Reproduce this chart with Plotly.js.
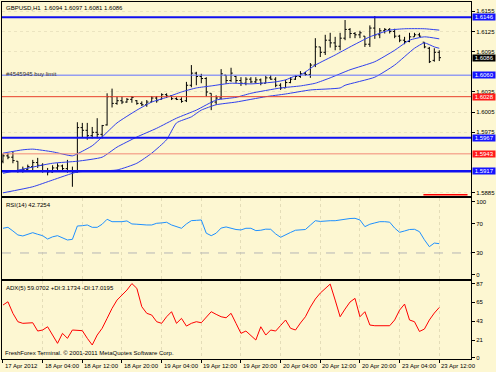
<!DOCTYPE html>
<html><head><meta charset="utf-8">
<script src="https://cdn.plot.ly/plotly-3.0.1.min.js"></script>
<style>html,body{margin:0;padding:0;background:#fdf7d2;}#chart{width:496px;height:372px;}</style>
</head><body><div id="chart"></div>
<script>
// ---- OHLC (GBPUSD H1), bar index 0 = 17 Apr 20:00 ... 88 = 23 Apr 12:00
const opens  = [1.5932,1.5940,1.5938,1.5932,1.5918,1.5920,1.5924,1.5930,1.5926,1.5918,1.5916,1.5922,1.5925,1.5921,1.5918,1.5916,1.5982,1.5978,1.5970,1.5975,1.5972,1.5986,1.6028,1.6018,1.6022,1.6020,1.6024,1.6022,1.6018,1.6016,1.6020,1.6026,1.6024,1.6031,1.6029,1.6025,1.6024,1.6022,1.6045,1.6063,1.6058,1.6055,1.6033,1.6020,1.6026,1.6060,1.6052,1.6058,1.6052,1.6048,1.6054,1.6050,1.6053,1.6048,1.6056,1.6054,1.6045,1.6041,1.6049,1.6054,1.6058,1.6062,1.6061,1.6075,1.6102,1.6094,1.6112,1.6108,1.6103,1.6115,1.6128,1.6122,1.6120,1.6118,1.6106,1.6130,1.6120,1.6126,1.6128,1.6125,1.6118,1.6112,1.6110,1.6117,1.6120,1.6109,1.6100,1.6082,1.6094];
const highs  = [1.5943,1.5944,1.5946,1.5932,1.5924,1.5927,1.5934,1.5937,1.5929,1.5922,1.5926,1.5929,1.5927,1.5934,1.5924,1.5990,1.5989,1.5989,1.5983,1.5996,1.5986,1.6033,1.6040,1.6028,1.6028,1.6026,1.6029,1.6023,1.6021,1.6023,1.6029,1.6029,1.6033,1.6033,1.6030,1.6027,1.6027,1.6050,1.6075,1.6065,1.6062,1.6057,1.6033,1.6030,1.6069,1.6060,1.6071,1.6059,1.6057,1.6057,1.6057,1.6057,1.6055,1.6059,1.6060,1.6057,1.6048,1.6053,1.6057,1.6060,1.6066,1.6065,1.6078,1.6115,1.6102,1.6120,1.6123,1.6117,1.6123,1.6142,1.6130,1.6124,1.6126,1.6118,1.6134,1.6148,1.6130,1.6130,1.6130,1.6129,1.6120,1.6117,1.6123,1.6123,1.6123,1.6109,1.6102,1.6100,1.6097];
const lows   = [1.5929,1.5935,1.5929,1.5915,1.5915,1.5919,1.5916,1.5922,1.5915,1.5911,1.5915,1.5919,1.5919,1.5915,1.5894,1.5915,1.5968,1.5964,1.5966,1.5966,1.5966,1.5985,1.6012,1.6016,1.6017,1.6019,1.6019,1.6016,1.6014,1.6013,1.6020,1.6019,1.6024,1.6026,1.6023,1.6023,1.6019,1.6020,1.6042,1.6045,1.6048,1.6028,1.6008,1.6016,1.6024,1.6047,1.6050,1.6048,1.6044,1.6045,1.6048,1.6048,1.6045,1.6048,1.6053,1.6042,1.6038,1.6041,1.6048,1.6053,1.6056,1.6059,1.6056,1.6072,1.6087,1.6090,1.6101,1.6097,1.6097,1.6112,1.6115,1.6115,1.6115,1.6102,1.6102,1.6114,1.6115,1.6122,1.6122,1.6115,1.6109,1.6106,1.6109,1.6117,1.6117,1.6100,1.6078,1.6080,1.6081];
const closes = [1.5940,1.5938,1.5933,1.5918,1.5920,1.5924,1.5930,1.5926,1.5918,1.5916,1.5922,1.5925,1.5921,1.5918,1.5916,1.5982,1.5978,1.5970,1.5975,1.5972,1.5985,1.6028,1.6018,1.6022,1.6020,1.6024,1.6027,1.6018,1.6016,1.6020,1.6026,1.6022,1.6031,1.6029,1.6025,1.6024,1.6021,1.6045,1.6063,1.6058,1.6055,1.6035,1.6020,1.6026,1.6062,1.6052,1.6063,1.6052,1.6048,1.6054,1.6050,1.6053,1.6048,1.6056,1.6054,1.6045,1.6041,1.6049,1.6054,1.6058,1.6062,1.6061,1.6075,1.6102,1.6094,1.6112,1.6108,1.6103,1.6115,1.6128,1.6122,1.6120,1.6123,1.6106,1.6130,1.6120,1.6126,1.6128,1.6125,1.6118,1.6112,1.6110,1.6117,1.6120,1.6118,1.6102,1.6080,1.6094,1.6086];

// ---- channel lines on the price chart (read at selected bars)
const upperIdx = [0,4,6,10,14,15,18,20,23,27,30,33,36,39,42,46,50,55,57,59,60,63,67,70,74,78,81,85,88];
const upperVal = [1.5944,1.5949,1.5950,1.5946,1.5940,1.5943,1.5955,1.5968,1.5989,1.6008,1.6020,1.6027,1.6035,1.6041,1.6044,1.6048,1.6047,1.6050,1.6053,1.6059,1.6060,1.6075,1.6090,1.6102,1.6117,1.6127,1.6129,1.6129,1.6127];
const midIdx   = [0,10,15,20,23,27,31,35,39,43,47,50,56,60,63,66,70,75,79,82,85,88];
const midVal   = [1.5914,1.5929,1.5932,1.5938,1.5953,1.5968,1.5981,1.5996,1.6008,1.6023,1.6027,1.6033,1.6041,1.6044,1.6048,1.6056,1.6068,1.6080,1.6097,1.6112,1.6117,1.6114];
const lowerIdx = [0,6,10,15,23,27,30,33,35,38,40,43,47,53,57,62,68,69,75,79,83,85,87,88];
const lowerVal = [1.5885,1.5894,1.5904,1.5916,1.5919,1.5929,1.5944,1.5964,1.5989,1.5998,1.6008,1.6016,1.6020,1.6028,1.6032,1.6038,1.6041,1.6045,1.6057,1.6075,1.6100,1.6108,1.6102,1.6100];

// ---- RSI(14) and ADX per bar
const rsi = [63.7,65,60,54.6,53.2,55.5,57.7,55.5,53.6,49,52,53.6,51,47.7,48.6,66.8,67.2,68.2,65,65,69.2,76,72.7,72.5,72.7,73.7,69.6,69.2,68.5,68.2,68.2,70.5,71,71.9,68.2,66,63.7,69.6,74.1,74.5,75,57,53.6,57,64,65.5,63.7,62,61.4,63.7,63.7,60.5,61,62.5,62.3,56,51.4,55,58,61,62,62,68,74,73,74,74,74,75,76.4,77,77.3,75,65.9,69.2,71,72.7,72.7,72,64,58.2,60,62,62.3,59.1,48,38.6,43.5,42.7254];
const adx = [61.9,65.7,52.2,42.4,40.5,40.5,41.2,31.5,32.7,36.5,26.8,17.1,28.8,23,32.7,31.9,31.9,23,15.2,26.8,34.7,46.3,58,67.7,73.6,79.4,87,81.4,59.9,52.2,50.2,42.4,40.5,48.2,54.1,40.5,46.3,37.3,40.5,42.4,41.2,48.2,54.1,51,48.2,47,52.2,40.5,28.8,31.5,26.8,21,36.5,26.8,32.7,31.5,38,44.4,34.7,32.7,40.9,48.2,59.5,68.9,75.9,81.4,86.4,67.7,48.2,57.2,65.4,69.7,48.2,54.1,38.5,37.7,37.7,37.7,37.7,44.4,56,63,44.4,42.4,31,33.8,44.4,52.5,59.0702];
const plusDI = 3.1734, minusDI = 17.0195;

// ---- horizontal price levels (orders / lines)
const levelPrices = [1.6146, 1.6060, 1.6028, 1.5967, 1.5943, 1.5917];
const levelColors = ['#1010f0', '#6070ff', '#e8402c', '#1010f0', '#f28a78', '#1010f0'];
const levelWidths = [2, 1, 1, 2, 1, 2.5];
const levelBoxes  = ['#1414ff', '#1414ff', '#ff1a1a', '#1414ff', '#ff1a1a', '#1414ff'];
const bidPrice = 1.6086;
const orderText = '#4545945 buy limit';
const orderPrice = 1.6060;
const markPrice = 1.5882, markFrom = 84.8, markTo = 93.7;

// ---- axis ticks (ticks fully hidden behind the level boxes are left out)
const priceTicks = [1.5885,1.5975,1.6005,1.6035,1.6095,1.6125,1.6155];
const rsiTicks = [0,30,70,100];
const adxTicks = [0,21,43,65,87];
const timeTickIdx = [0,8,16,24,32,40,48,56,64,72,80,88];
const timeTickText = ['17 Apr 2012','18 Apr 04:00','18 Apr 12:00','18 Apr 20:00','19 Apr 04:00','19 Apr 12:00','19 Apr 20:00','20 Apr 04:00','20 Apr 12:00','20 Apr 20:00','23 Apr 04:00','23 Apr 12:00'];

const barIdx = opens.map((_, i) => i);
const FONT = 'Liberation Sans, Arial, sans-serif';
const FS = 6;
const BG = '#fdf7d2';
const bandColor = '#3040ee';
const NB = '\u00a0';

const traces = [
  {type:'ohlc', x:barIdx, open:opens, high:highs, low:lows, close:closes, xaxis:'x', yaxis:'y',
   increasing:{line:{color:'#000000', width:1}}, decreasing:{line:{color:'#000000', width:1}},
   tickwidth:0.35, hoverinfo:'skip'},
  {type:'scatter', mode:'lines', x:upperIdx, y:upperVal, xaxis:'x', yaxis:'y', line:{color:bandColor, width:1, shape:'spline', smoothing:0.5}},
  {type:'scatter', mode:'lines', x:midIdx, y:midVal, xaxis:'x', yaxis:'y', line:{color:bandColor, width:1, shape:'spline', smoothing:0.5}},
  {type:'scatter', mode:'lines', x:lowerIdx, y:lowerVal, xaxis:'x', yaxis:'y', line:{color:bandColor, width:1, shape:'spline', smoothing:0.5}},
  {type:'scatter', mode:'lines', x:barIdx, y:rsi, xaxis:'x2', yaxis:'y2', line:{color:'#1e90ff', width:1}},
  {type:'scatter', mode:'lines', x:barIdx, y:adx, xaxis:'x3', yaxis:'y3', line:{color:'#ff0000', width:1}}
];

const xr = [-0.2, 94.4];
const xBase = {range:xr, showline:true, linecolor:'#000', linewidth:1, mirror:true, zeroline:false,
  tickvals:timeTickIdx, showgrid:true, gridcolor:'#e4ddb8', griddash:'dot', gridwidth:1, fixedrange:true};
const yBase = {side:'right', showline:true, linecolor:'#000', linewidth:1, mirror:true, zeroline:false,
  ticks:'outside', ticklen:3, tickcolor:'#000', tickfont:{family:FONT, size:FS, color:'#000'}, fixedrange:true};

const shapes = [];
levelPrices.forEach((p, k) => shapes.push({type:'line', xref:'x domain', x0:0, x1:1, yref:'y', y0:p, y1:p,
  line:{color:levelColors[k], width:levelWidths[k]}, layer:'above'}));
shapes.push({type:'line', xref:'x2 domain', x0:0, x1:1, yref:'y2', y0:30, y1:30, line:{color:'#b5b5b5', width:1, dash:'dash'}});
shapes.push({type:'line', xref:'x', x0:markFrom, x1:markTo, yref:'y', y0:markPrice, y1:markPrice, line:{color:'#ff0000', width:1.5}});

const annotations = [];
levelPrices.forEach((p, k) => annotations.push({xref:'paper', x:1, xanchor:'left', xshift:1, yref:'y', y:p, yanchor:'middle',
  text:NB + p.toFixed(4) + NB, showarrow:false, bgcolor:levelBoxes[k], borderpad:0, font:{family:FONT, size:FS, color:'#fff'}}));
annotations.push({xref:'paper', x:1, xanchor:'left', xshift:1, yref:'y', y:bidPrice, yanchor:'middle',
  text:NB + bidPrice.toFixed(4) + NB, showarrow:false, bgcolor:'#000', borderpad:0, font:{family:FONT, size:FS, color:'#fff'}});
annotations.push({xref:'x domain', x:0, xanchor:'left', xshift:2, yref:'y', y:orderPrice, yanchor:'middle', yshift:1,
  text:orderText, showarrow:false, font:{family:FONT, size:FS, color:'#303030'}});
annotations.push({xref:'x domain', x:0, xanchor:'left', xshift:2, yref:'y domain', y:1, yanchor:'top', yshift:-1,
  text:'GBPUSD,H1' + NB + NB + [opens[88], highs[88], lows[88], closes[88]].map(v => v.toFixed(4)).join(' '),
  showarrow:false, font:{family:FONT, size:FS, color:'#000'}});
annotations.push({xref:'x2 domain', x:0, xanchor:'left', xshift:2, yref:'y2 domain', y:1, yanchor:'top', yshift:-2,
  text:'RSI(14) ' + rsi[88].toFixed(4), showarrow:false, font:{family:FONT, size:FS, color:'#000'}});
annotations.push({xref:'x3 domain', x:0, xanchor:'left', xshift:2, yref:'y3 domain', y:1, yanchor:'top', yshift:-2,
  text:'ADX(5) ' + adx[88].toFixed(4) + ' +DI:' + plusDI.toFixed(4) + ' -DI:' + minusDI.toFixed(4), showarrow:false, font:{family:FONT, size:FS, color:'#000'}});
annotations.push({xref:'x3 domain', x:0, xanchor:'left', xshift:1, yref:'y3 domain', y:0, yanchor:'bottom', yshift:1,
  text:'FreshForex Terminal. © 2001-2011 MetaQuotes Software Corp.', showarrow:false, font:{family:FONT, size:FS, color:'#000'}});
// time labels: left-aligned just right of each time tick, as on the terminal
timeTickIdx.forEach((ix, k) => annotations.push({xref:'x3', x:ix, xanchor:'left', xshift:0, yref:'paper', y:0, yanchor:'top', yshift:-2,
  text:timeTickText[k], showarrow:false, font:{family:FONT, size:FS, color:'#000'}}));

const layout = {
  width:496, height:372, paper_bgcolor:BG, plot_bgcolor:BG, showlegend:false,
  margin:{l:2, r:25, t:2, b:13}, hovermode:false,
  xaxis: Object.assign({}, xBase, {anchor:'y', showticklabels:false, ticks:'', rangeslider:{visible:false}, showgrid:false}),
  xaxis2: Object.assign({}, xBase, {anchor:'y2', matches:'x', showticklabels:false, ticks:''}),
  xaxis3: Object.assign({}, xBase, {anchor:'y3', matches:'x', ticks:'outside', ticklen:3, tickcolor:'#000', showticklabels:false}),
  yaxis: Object.assign({}, yBase, {domain:[0.4566, 1], range:[1.58803, 1.61688], tickvals:priceTicks, tickformat:'.4f',
    showgrid:true, gridcolor:'#ebe4c0', griddash:'dot'}),
  yaxis2: Object.assign({}, yBase, {domain:[0.2241, 0.4510], range:[-5.5, 105], tickvals:rsiTicks, showgrid:false}),
  yaxis3: Object.assign({}, yBase, {domain:[0, 0.2185], range:[-1.2, 90], tickvals:adxTicks, showgrid:false}),
  shapes:shapes, annotations:annotations
};
Plotly.newPlot('chart', traces, layout, {staticPlot:true, displayModeBar:false});
</script></body></html>
